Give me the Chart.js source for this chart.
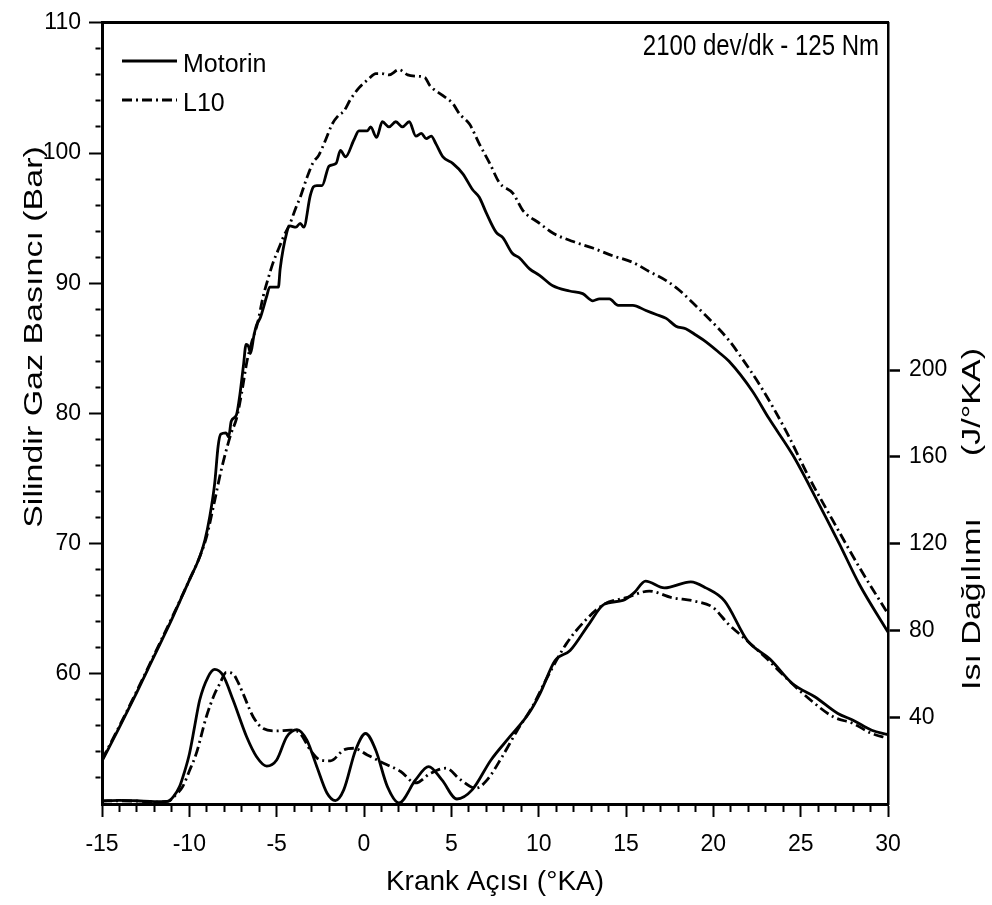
<!DOCTYPE html>
<html>
<head>
<meta charset="utf-8">
<script src="https://cdn.jsdelivr.net/npm/chart.js@4.4.1/dist/chart.umd.min.js"></script>
<style>
  html, body { margin: 0; padding: 0; background: #fff; }
  #wrap { width: 992px; height: 905px; }
</style>
</head>
<body>
<div id="wrap"><canvas id="chart"></canvas></div>
<script>
// Silindir gaz basinci (bar) - krank acisi (°KA)
var pMotorinX = [-15, -14, -13, -12.5, -12, -11, -10.5, -10, -9.4, -9.1, -8.84, -8.55, -8.35, -8.2, -7.9, -7.75, -7.6, -7.3, -7.1, -6.9, -6.75, -6.6, -6.5, -6.3, -6.15, -5.95, -5.57, -5.4, -4.9, -4.8, -4.42, -4.25, -3.9, -3.65, -3.45, -3.08, -2.9, -2.7, -2.4, -2.0, -1.6, -1.35, -1.06, -0.58, -0.29, 0.19, 0.38, 0.72, 1.05, 1.43, 1.82, 2.2, 2.59, 2.97, 3.28, 3.56, 3.85, 4.12, 4.52, 5.08, 5.66, 6.21, 6.6, 7.0, 7.57, 7.95, 8.49, 8.89, 9.48, 10.05, 10.81, 11.77, 12.52, 13.1, 13.48, 14.05, 14.55, 15.39, 16.14, 16.73, 17.3, 17.86, 18.42, 19.02, 19.58, 20.31, 20.9, 22.24, 23.19, 24.55, 25.87, 27.21, 28.35, 30];
var pMotorinY = [53.3, 55.9, 58.6, 60.0, 61.4, 64.2, 65.7, 67.2, 69.0, 70.3, 72.0, 74.6, 77.5, 78.4, 78.5, 78.2, 79.4, 79.9, 81.5, 83.7, 85.3, 85.1, 84.6, 86.0, 86.8, 87.3, 89.0, 89.7, 89.7, 91.1, 93.9, 94.4, 94.3, 94.6, 94.3, 96.7, 97.4, 97.5, 97.5, 99.0, 99.2, 100.2, 99.7, 101.0, 101.7, 101.7, 102.0, 101.2, 102.4, 102.0, 102.4, 102.0, 102.4, 101.3, 101.5, 101.1, 101.3, 100.7, 99.7, 99.2, 98.4, 97.2, 96.6, 95.4, 93.9, 93.5, 92.3, 91.95, 91.1, 90.6, 89.8, 89.4, 89.2, 88.65, 88.8, 88.8, 88.3, 88.3, 87.9, 87.6, 87.3, 86.7, 86.5, 86.0, 85.5, 84.7, 84.0, 81.7, 79.6, 76.8, 73.5, 70.0, 66.9, 63.2];

var pL10X = [-15, -14, -13, -12, -11, -10, -9.4, -9.0, -8.55, -8.2, -7.9, -7.6, -7.3, -7.0, -6.7, -6.4, -6.1, -5.77, -5.5, -5.2, -4.9, -4.6, -4.23, -3.9, -3.65, -3.27, -2.9, -2.6, -2.2, -1.83, -1.45, -1.16, -0.78, -0.29, 0.28, 0.67, 1.0, 1.43, 2.0, 2.5, 3.0, 3.48, 3.76, 4.52, 5.08, 5.47, 6.05, 6.6, 7.2, 7.76, 8.53, 9.09, 10.05, 10.81, 11.97, 13.1, 14.25, 15.39, 16.33, 17.3, 18.02, 18.82, 19.58, 20.31, 20.9, 21.5, 22.79, 24.18, 25.47, 26.83, 28.35, 30];
var pL10Y = [53.4, 56.0, 58.7, 61.5, 64.3, 67.2, 69.0, 70.6, 73.3, 75.5, 77.1, 78.5, 79.6, 81.6, 84.0, 85.6, 86.9, 89.0, 90.3, 91.6, 92.6, 93.6, 94.6, 95.8, 96.6, 98.1, 99.3, 99.8, 101.0, 102.2, 102.9, 103.2, 104.1, 105.0, 105.7, 106.1, 106.1, 106.0, 106.4, 106.0, 105.9, 105.8, 105.2, 104.4, 103.8, 103.0, 102.2, 100.7, 99.2, 97.7, 96.9, 95.6, 94.6, 93.85, 93.2, 92.7, 92.1, 91.6, 90.9, 90.2, 89.5, 88.5, 87.5, 86.5, 85.6, 84.5, 81.9, 78.6, 75.1, 71.8, 68.2, 64.6];

// Isi dagilimi (J/°KA)
var hMotorinX = [-15, -14, -13, -12, -11.24, -10.9, -10.56, -10.3, -9.99, -9.7, -9.41, -8.93, -8.55, -8.07, -7.49, -6.72, -6.15, -5.57, -5.0, -4.42, -3.84, -3.27, -2.7, -2.12, -1.64, -1.16, -0.48, 0.09, 0.67, 1.34, 2.0, 2.95, 3.7, 4.46, 5.32, 6.19, 7.27, 8.35, 9.43, 10.07, 10.94, 11.8, 12.88, 13.74, 14.82, 15.47, 16.12, 17.2, 18.71, 19.57, 20.65, 21.95, 23.24, 24.54, 25.83, 27.13, 28.0, 29.07, 30];
var hMotorinY = [1.4, 1.7, 1.5, 1.1, 1.2, 3.5, 8.0, 14.2, 23.3, 35.6, 47.8, 58.5, 62.0, 59.2, 47.8, 31.0, 21.8, 17.5, 20.3, 31.0, 34.3, 29.4, 17.2, 5.1, 1.6, 6.5, 24.9, 32.5, 24.9, 8.0, 0.5, 11.1, 17.2, 11.1, 2.3, 6.5, 20.3, 31.0, 41.7, 50.8, 66.1, 70.7, 82.9, 92.0, 93.8, 97.4, 102.7, 99.6, 102.4, 99.6, 93.5, 75.3, 66.8, 55.4, 49.3, 41.7, 38.6, 34.0, 32.0];

var hL10X = [-15, -14, -13, -12, -11.2, -10.8, -10.38, -10.0, -9.6, -9.03, -8.55, -8.26, -7.88, -7.5, -7.2, -6.92, -6.34, -5.77, -5.0, -4.23, -3.65, -3.08, -2.5, -1.92, -1.16, -0.58, 0.19, 1.15, 2.1, 2.95, 3.82, 4.68, 5.54, 6.41, 7.05, 7.91, 8.78, 9.63, 10.5, 11.58, 12.66, 13.74, 15.03, 16.33, 17.62, 18.92, 19.98, 20.86, 21.72, 22.98, 24.31, 25.58, 26.88, 28.0, 29.07, 30];
var hL10Y = [1.4, 1.5, 1.3, 0.9, 1.3, 4.0, 8.0, 15.2, 23.3, 40.1, 50.8, 55.4, 60.7, 60.0, 55.9, 50.8, 40.1, 34.8, 33.7, 34.0, 32.5, 24.9, 20.3, 19.9, 24.9, 25.7, 22.6, 18.7, 15.0, 9.7, 14.2, 16.5, 11.1, 7.3, 11.1, 21.8, 34.0, 44.7, 58.5, 73.8, 84.5, 92.0, 95.1, 98.1, 95.1, 93.5, 90.6, 82.9, 76.8, 67.6, 57.0, 47.8, 40.1, 37.1, 32.5, 30.3];

// tick labels
var xTickLabels = [-15, -10, -5, 0, 5, 10, 15, 20, 25, 30];
var pTickLabels = [60, 70, 80, 90, 100, 110];
var hTickLabels = [40, 80, 120, 160, 200];

var FONT = "'Liberation Sans', Arial, sans-serif";
var dashDot = [10, 4, 2, 4];

Chart.defaults.color = '#000';
Chart.defaults.font.family = FONT;

function pts(xs, ys) {
    return xs.map(function(x, i) { return {x: x, y: ys[i]}; });
}

// minor ticks between the labelled ones
function withMinor(labels, step) {
    var out = [];
    for (var v = labels[0] - step * 4; v <= labels[labels.length - 1] + 1e-9; v += step) {
        out.push({value: Math.round(v * 100) / 100});
    }
    return out;
}

function lineStyle(label, data, axis, dash) {
    return {
        label: label,
        data: data,
        yAxisID: axis,
        borderColor: '#000',
        borderWidth: 2.8,
        borderDash: dash,
        pointRadius: 0,
        fill: false,
        cubicInterpolationMode: 'monotone'
    };
}

function drawTurned(ctx, text, x, y, align, size, squeeze) {
    ctx.save();
    ctx.translate(x, y);
    ctx.rotate(-Math.PI / 2);
    ctx.scale(1, squeeze);
    ctx.font = size + 'px ' + FONT;
    ctx.textAlign = align;
    ctx.textBaseline = 'alphabetic';
    ctx.fillText(text, 0, 0);
    ctx.restore();
}

var decorPlugin = {
    id: 'decor',
    afterDraw: function(chart) {
        var ctx = chart.ctx;
        ctx.save();
        ctx.fillStyle = '#000';
        ctx.strokeStyle = '#000';

        // axis titles on the sides
        drawTurned(ctx, 'Silindir Gaz Basıncı (Bar)', 41.5, 337, 'center', 34, 0.75);
        drawTurned(ctx, 'Isı Dağılımı', 980, 690, 'left', 34, 0.75);
        drawTurned(ctx, '(J/°KA)', 980, 348, 'right', 34, 0.75);

        // legend
        var rows = [chart.data.datasets[0], chart.data.datasets[1]];
        rows.forEach(function(ds, i) {
            var y = 61 + i * 39;
            ctx.beginPath();
            ctx.lineWidth = ds.borderWidth;
            ctx.setLineDash(ds.borderDash || []);
            ctx.moveTo(122, y);
            ctx.lineTo(177, y);
            ctx.stroke();
            ctx.setLineDash([]);
            ctx.font = '25px ' + FONT;
            ctx.textAlign = 'left';
            ctx.textBaseline = 'alphabetic';
            ctx.fillText(ds.label, 183, y + 10.5);
        });

        // test condition
        ctx.save();
        ctx.translate(879, 54.5);
        ctx.scale(1, 1.2);
        ctx.font = '24px ' + FONT;
        ctx.textAlign = 'right';
        ctx.fillText('2100 dev/dk - 125 Nm', 0, 0);
        ctx.restore();

        ctx.restore();
    }
};

var tickFont = { size: 23 };

var ctx = document.getElementById('chart').getContext('2d');
var chart = new Chart(ctx, {
    type: 'line',
    data: {
        datasets: [
            lineStyle('Motorin', pts(pMotorinX, pMotorinY), 'y', []),
            lineStyle('L10', pts(pL10X, pL10Y), 'y', dashDot),
            lineStyle('Motorin', pts(hMotorinX, hMotorinY), 'y1', []),
            lineStyle('L10', pts(hL10X, hL10Y), 'y1', dashDot)
        ]
    },
    options: {
        responsive: true,
        maintainAspectRatio: false,
        animation: false,
        layout: { padding: 0 },
        plugins: {
            legend: { display: false },
            tooltip: { enabled: false }
        },
        scales: {
            x: {
                type: 'linear',
                position: 'bottom',
                min: -15,
                max: 30,
                afterBuildTicks: function(s) { s.ticks = withMinor(xTickLabels, 1).filter(function(t) { return t.value >= -15; }); },
                afterFit: function(s) { s.height = 101; },
                ticks: {
                    autoSkip: false,
                    maxRotation: 0,
                    padding: 14,
                    font: tickFont,
                    callback: function(v) { return xTickLabels.indexOf(v) >= 0 ? String(v) : ''; }
                },
                grid: {
                    drawOnChartArea: false,
                    tickLength: 13,
                    tickWidth: 2,
                    tickColor: '#000',
                    tickBorderDash: function(c) {
                        return c.tick && xTickLabels.indexOf(c.tick.value) >= 0 ? [] : [6, 100];
                    }
                },
                border: { color: '#000', width: 3 },
                title: {
                    display: true,
                    text: 'Krank Açısı (°KA)',
                    font: { size: 28 },
                    padding: { top: 0, bottom: 6 }
                }
            },
            xTop: {
                type: 'linear',
                position: 'top',
                min: -15,
                max: 30,
                afterFit: function(s) { s.height = 18; },
                ticks: { display: false },
                grid: { drawOnChartArea: false, drawTicks: false },
                border: { color: '#000', width: 3 }
            },
            y: {
                type: 'linear',
                position: 'left',
                min: 50,
                max: 110,
                afterBuildTicks: function(s) { s.ticks = withMinor(pTickLabels, 2); },
                afterFit: function(s) { s.width = 102; },
                ticks: {
                    autoSkip: false,
                    padding: 8,
                    font: tickFont,
                    callback: function(v) { return pTickLabels.indexOf(v) >= 0 ? String(v) : ''; }
                },
                grid: {
                    drawOnChartArea: false,
                    tickLength: 13,
                    tickWidth: 2,
                    tickColor: '#000',
                    tickBorderDash: function(c) {
                        return c.tick && pTickLabels.indexOf(c.tick.value) >= 0 ? [] : [0, 6.5, 5, 100];
                    }
                },
                border: { color: '#000', width: 3 }
            },
            y1: {
                type: 'linear',
                position: 'right',
                min: 0,
                max: 360,
                afterBuildTicks: function(s) { s.ticks = hTickLabels.map(function(v) { return {value: v}; }); },
                afterFit: function(s) { s.width = 104; },
                ticks: {
                    autoSkip: false,
                    padding: 9,
                    font: tickFont,
                    callback: function(v) { return String(v); }
                },
                grid: {
                    drawOnChartArea: false,
                    tickLength: 12,
                    tickWidth: 2.5,
                    tickColor: '#000'
                },
                border: { color: '#000', width: 2.5 }
            }
        }
    },
    plugins: [decorPlugin]
});
</script>
</body>
</html>
